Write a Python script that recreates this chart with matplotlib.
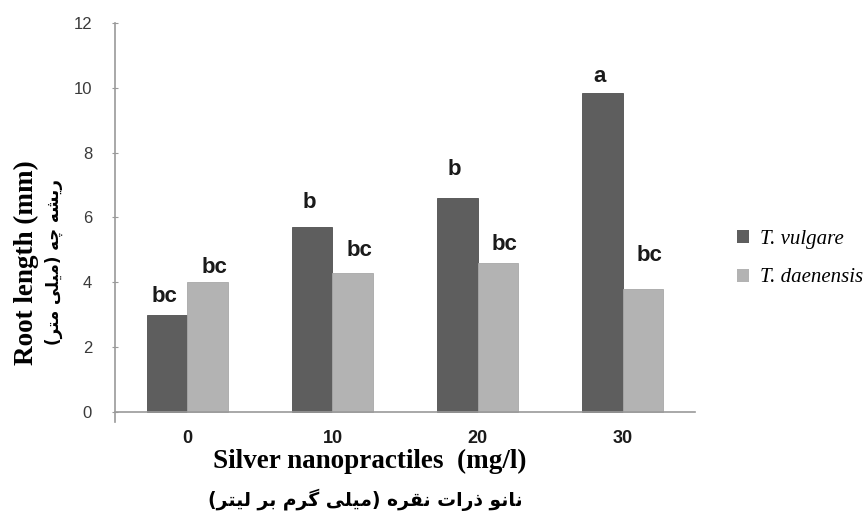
import numpy as np
import matplotlib.pyplot as plt
from matplotlib.patches import Patch

# ---- data ----
doses = ["0", "10", "20", "30"]
vulgare = [3.0, 5.7, 6.6, 9.85]
daenensis = [4.0, 4.3, 4.6, 3.8]
vulgare_letters = ["bc", "b", "b", "a"]
daenensis_letters = ["bc", "bc", "bc", "bc"]
series_names = ["T. vulgare", "T. daenensis"]

ylabel_en = "Root length (mm)"
ylabel_fa = "ریشه چه (میلی متر)"
xlabel_en = "Silver nanopractiles  (mg/l)"
xlabel_fa = "نانو ذرات نقره (میلی گرم بر لیتر)"

# ---- small Persian shaper (matplotlib does no Arabic shaping / RTL) ----
# letter: (isolated, final, initial, medial); None = does not join to the left
FORMS = {
    "ا": ("\uFE8D", "\uFE8E", None, None),
    "ب": ("\uFE8F", "\uFE90", "\uFE91", "\uFE92"),
    "ت": ("\uFE95", "\uFE96", "\uFE97", "\uFE98"),
    "ذ": ("\uFEAB", "\uFEAC", None, None),
    "ر": ("\uFEAD", "\uFEAE", None, None),
    "ش": ("\uFEB5", "\uFEB6", "\uFEB7", "\uFEB8"),
    "ق": ("\uFED5", "\uFED6", "\uFED7", "\uFED8"),
    "ل": ("\uFEDD", "\uFEDE", "\uFEDF", "\uFEE0"),
    "م": ("\uFEE1", "\uFEE2", "\uFEE3", "\uFEE4"),
    "ن": ("\uFEE5", "\uFEE6", "\uFEE7", "\uFEE8"),
    "ه": ("\uFEE9", "\uFEEA", "\uFEEB", "\uFEEC"),
    "و": ("\uFEED", "\uFEEE", None, None),
    "ی": ("\uFEEF", "\uFEF0", "\uFEF3", "\uFEF4"),
    "چ": ("\uFB7A", "\uFB7B", "\uFB7C", "\uFB7D"),
    "گ": ("\uFB92", "\uFB93", "\uFB94", "\uFB95"),
}


def shape_fa(text):
    out = []
    for i, ch in enumerate(text):
        if ch not in FORMS:
            out.append(ch)
            continue
        prev = text[i - 1] if i > 0 else ""
        nxt = text[i + 1] if i + 1 < len(text) else ""
        join_prev = prev in FORMS and FORMS[prev][2] is not None
        join_next = FORMS[ch][2] is not None and nxt in FORMS
        iso, fin, ini, med = FORMS[ch]
        if join_prev and join_next:
            out.append(med)
        elif join_prev:
            out.append(fin)
        elif join_next:
            out.append(ini)
        else:
            out.append(iso)
    visual = "".join(reversed(out))
    return visual.translate(str.maketrans("()", ")("))


dark = "#5e5e5e"
light = "#b3b3b3"
axis_grey = "#9a9a9a"

fig = plt.figure(figsize=(8.64, 5.11), dpi=100)
ax = fig.add_axes([0.1331, 0.1748, 0.6713, 0.7802])

# spines first: moving a spine resets the tick labels
for s in ["top", "right"]:
    ax.spines[s].set_visible(False)
ax.spines["bottom"].set_position(("data", 0))
for s in ["left", "bottom"]:
    ax.spines[s].set_color(axis_grey)
    ax.spines[s].set_linewidth(1.2)

x = np.arange(len(doses))
w = 0.28
ax.bar(x - w / 2, vulgare, w, color=dark, edgecolor="#4f4f4f", linewidth=0.6)
ax.bar(x + w / 2, daenensis, w, color=light, edgecolor="#a8a8a8", linewidth=0.6)

# significance letters (pixel offsets above each bar)
dy1 = [18, 25, 29, 16]
dy2 = [15, 22, 18, 33]
for xi, v, lab, d in zip(x - w / 2, vulgare, vulgare_letters, dy1):
    ax.annotate(lab, (xi, v), xytext=(-2, d * 0.72), textcoords="offset points",
                ha="center", va="center", fontsize=16, fontweight="bold",
                family="Liberation Sans", color="#1a1a1a")
for xi, v, lab, d in zip(x + w / 2, daenensis, daenensis_letters, dy2):
    ax.annotate(lab, (xi, v), xytext=(5, d * 0.72), textcoords="offset points",
                ha="center", va="center", fontsize=16, fontweight="bold",
                family="Liberation Sans", color="#1a1a1a")

ax.set_xlim(-0.5, 3.5)
ax.set_ylim(-0.3, 12)
ax.spines["left"].set_bounds(-0.3, 12)
ax.set_yticks(np.arange(0, 13, 2))
ax.set_yticklabels([str(v) for v in range(0, 13, 2)], fontsize=12,
                   family="Liberation Sans")
ax.set_xticks(x)
ax.set_xticklabels(doses, fontsize=13, fontweight="bold", family="Liberation Sans")
ax.tick_params(axis="y", direction="inout", length=5, color=axis_grey,
               pad=14, labelcolor="#3a3a3a")
ax.tick_params(axis="x", length=0, pad=13, labelcolor="#1a1a1a")

# axis titles, English and Persian
fig.text(0.031, 0.487, ylabel_en, rotation=90, ha="center", va="center",
         fontsize=19.5, fontweight="bold", family="Liberation Serif")
fig.text(0.062, 0.487, shape_fa(ylabel_fa), rotation=90, ha="center", va="center",
         fontsize=12, fontweight="bold", family=["DejaVu Sans"])
fig.text(0.428, 0.097, xlabel_en, ha="center", va="center",
         fontsize=19.5, fontweight="bold", family="Liberation Serif")
fig.text(0.423, 0.021, shape_fa(xlabel_fa), ha="center", va="center",
         fontsize=13.5, fontweight="bold", family=["DejaVu Sans"])

handles = [Patch(facecolor=dark, edgecolor="none"),
           Patch(facecolor=light, edgecolor="none")]
fig.legend(handles, series_names, loc="center left",
           bbox_to_anchor=(0.831, 0.494), frameon=False,
           handlelength=0.6, handleheight=0.6, handletextpad=0.5,
           labelspacing=0.95,
           prop={"family": "Liberation Serif", "style": "italic", "size": 15})

fig.savefig("out.png", dpi=100)
